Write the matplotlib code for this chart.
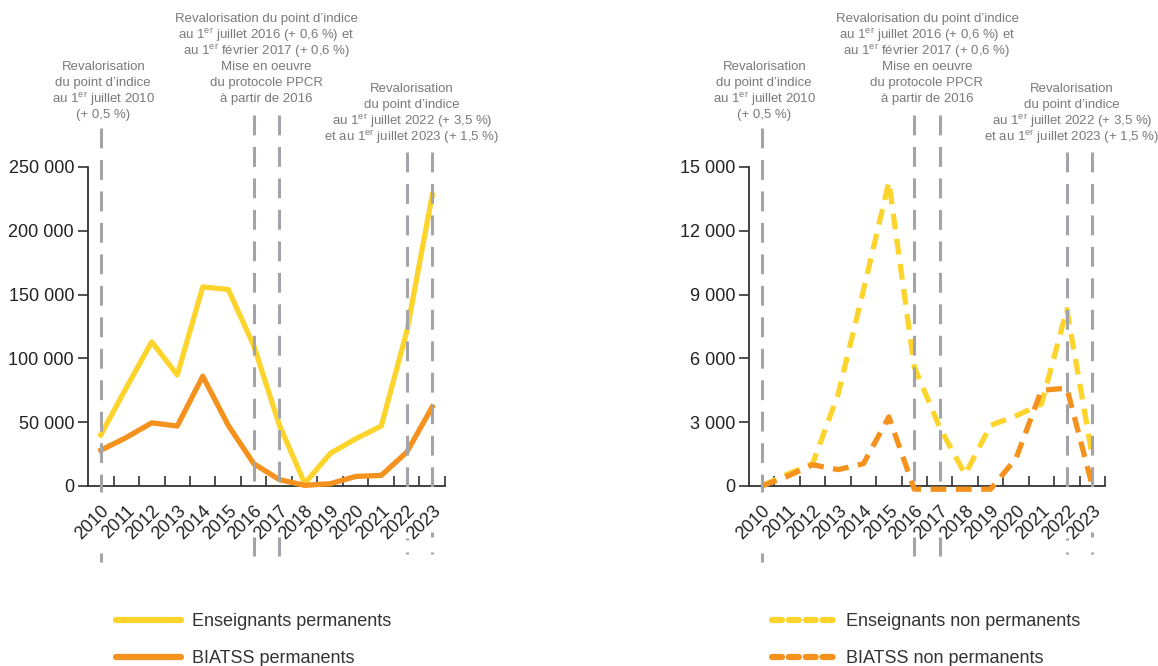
import matplotlib
matplotlib.use("Agg")
import matplotlib.pyplot as plt
from matplotlib.transforms import blended_transform_factory
from matplotlib.lines import Line2D
from matplotlib.ticker import FuncFormatter

plt.rcParams['font.family'] = ['Liberation Sans', 'DejaVu Sans']
plt.rcParams['mathtext.fontset'] = 'custom'
plt.rcParams['mathtext.rm'] = 'Liberation Sans'
plt.rcParams['mathtext.it'] = 'Liberation Sans'
plt.rcParams['mathtext.bf'] = 'Liberation Sans'

years = ['2010', '2011', '2012', '2013', '2014', '2015', '2016',
         '2017', '2018', '2019', '2020', '2021', '2022', '2023']

ens_perm = [40000, 77000, 113000, 87000, 156000, 154000, 110000,
            48000, 2000, 25500, 37000, 47000, 121000, 228000]
biatss_perm = [28000, 38000, 49500, 47000, 86000, 47500, 17500,
               5000, 500, 1800, 7500, 8300, 26500, 62000]

ens_nonperm = [0, 550, 1050, 4300, 9200, 14300, 5600,
               2750, 550, 2850, 3300, 3850, 8300, 1400]
biatss_nonperm = [0, 450, 1000, 770, 1050, 3250, -150,
                  -150, -150, -150, 1300, 4500, 4600, 0]

left_yticks = [0, 50000, 100000, 150000, 200000, 250000]
right_yticks = [0, 3000, 6000, 9000, 12000, 15000]

annot_2010 = ["Revalorisation", "du point d\u2019indice",
              "au 1$^{\\mathrm{er}}$ juillet 2010", "(+ 0,5 %)"]
annot_2016 = ["Revalorisation du point d\u2019indice",
              "au 1$^{\\mathrm{er}}$ juillet 2016 (+ 0,6 %) et",
              "au 1$^{\\mathrm{er}}$ f\u00e9vrier 2017 (+ 0,6 %)",
              "Mise en oeuvre", "du protocole PPCR", "\u00e0 partir de 2016"]
annot_2022 = ["Revalorisation", "du point d\u2019indice",
              "au 1$^{\\mathrm{er}}$ juillet 2022 (+ 3,5 %)",
              "et au 1$^{\\mathrm{er}}$ juillet 2023 (+ 1,5 %)"]

YELLOW = '#FDD42C'
ORANGE = '#F5921E'
GRAY = '#a4a4a8'
DARK = '#333333'
TXTGRAY = '#7a7a7a'

W, H = 1158, 666
fig = plt.figure(figsize=(W / 100, H / 100), dpi=100)

def fy(px):
    return 1 - px / H

axL = fig.add_axes([88 / W, fy(486), (445 - 88) / W, (486 - 167) / H])
axR = fig.add_axes([749 / W, fy(486), (1105 - 749) / W, (486 - 167) / H])

fmt = FuncFormatter(lambda v, p: f"{int(v):,}".replace(",", " "))

def style(ax, ymax, yticks):
    n = len(years)
    x = list(range(n))
    ax.set_xlim(-0.5, n - 0.5)
    ax.set_ylim(0, ymax)
    for s in ['top', 'right']:
        ax.spines[s].set_visible(False)
    for s in ['left', 'bottom']:
        ax.spines[s].set_color(DARK)
        ax.spines[s].set_linewidth(1.3)
    ax.set_yticks(yticks)
    ax.yaxis.set_major_formatter(fmt)
    ax.tick_params(axis='y', direction='out', length=7, width=1.2,
                   color=DARK, labelsize=13, labelcolor='#222222', pad=3)
    ax.set_xticks(x)
    ax.set_xticklabels(years, rotation=45, ha='right', va='top',
                       rotation_mode='anchor', fontsize=13, color='#222222')
    ax.tick_params(axis='x', which='major', length=0, pad=12)
    ax.set_xticks([i + 0.5 for i in range(n)], minor=True)
    ax.tick_params(axis='x', which='minor', direction='in', length=7,
                   width=1.2, color=DARK)
    return x

def vlines(ax, idx, top, stubs):
    tr = blended_transform_factory(ax.transData, fig.transFigure)
    ax.plot([idx, idx], [fy(top), fy(492)], transform=tr, clip_on=False,
            color=GRAY, lw=2.2, linestyle=(0, (6.5, 3.8)), zorder=5)
    for y0, y1 in stubs:
        ax.plot([idx, idx], [fy(y0), fy(y1)], transform=tr, clip_on=False,
                color=GRAY, lw=2.2, solid_capstyle='butt', zorder=5)

def annot(ax, xpos, lines, top):
    tr = blended_transform_factory(ax.transData, fig.transFigure)
    for i, t in enumerate(lines):
        ax.text(xpos, fy(top + 16 * i), t, transform=tr, ha='center',
                va='center', fontsize=9.5, color=TXTGRAY)

def decorate(ax):
    vlines(ax, 0, 128, [(553, 562)])
    vlines(ax, 6, 115, [(537, 556)])
    vlines(ax, 7, 115, [(537, 556)])
    vlines(ax, 12, 152, [(538, 540), (552, 554)])
    vlines(ax, 13, 152, [(532, 537), (552, 554)])
    annot(ax, 0.1, annot_2010, 67)
    annot(ax, 6.5, annot_2016, 19)
    annot(ax, 12.2, annot_2022, 89)

x = style(axL, 250000, left_yticks)
axL.plot(x, ens_perm, color=YELLOW, lw=3.8, clip_on=False, zorder=3)
axL.plot(x, biatss_perm, color=ORANGE, lw=3.8, clip_on=False, zorder=3)
decorate(axL)

x = style(axR, 15000, right_yticks)
axR.plot(x, ens_nonperm, color=YELLOW, lw=3.8, linestyle=(0, (3.0, 1.8)),
         clip_on=False, zorder=3)
axR.plot(x, biatss_nonperm, color=ORANGE, lw=3.8, linestyle=(0, (3.0, 1.8)),
         clip_on=False, zorder=3)
decorate(axR)

hL = [Line2D([], [], color=YELLOW, lw=4.5, solid_capstyle='round'),
      Line2D([], [], color=ORANGE, lw=4.5, solid_capstyle='round')]
fig.legend(hL, ['Enseignants permanents', 'BIATSS permanents'],
           loc='upper left', bbox_to_anchor=(116 / W, fy(613)),
           frameon=False, fontsize=13, handlelength=3.6, handletextpad=0.6,
           labelspacing=1.1, borderpad=0, borderaxespad=0,
           labelcolor='#333333')
hR = [Line2D([], [], color=YELLOW, lw=4.5, dash_capstyle='round',
             linestyle=(0, (1.6, 1.1))),
      Line2D([], [], color=ORANGE, lw=4.5, dash_capstyle='round',
             linestyle=(0, (1.6, 1.1)))]
fig.legend(hR, ['Enseignants non permanents', 'BIATSS non permanents'],
           loc='upper left', bbox_to_anchor=(772 / W, fy(613)),
           frameon=False, fontsize=13, handlelength=3.4, handletextpad=0.7,
           labelspacing=1.1, borderpad=0, borderaxespad=0,
           labelcolor='#333333')

fig.savefig('out.png', dpi=100)
